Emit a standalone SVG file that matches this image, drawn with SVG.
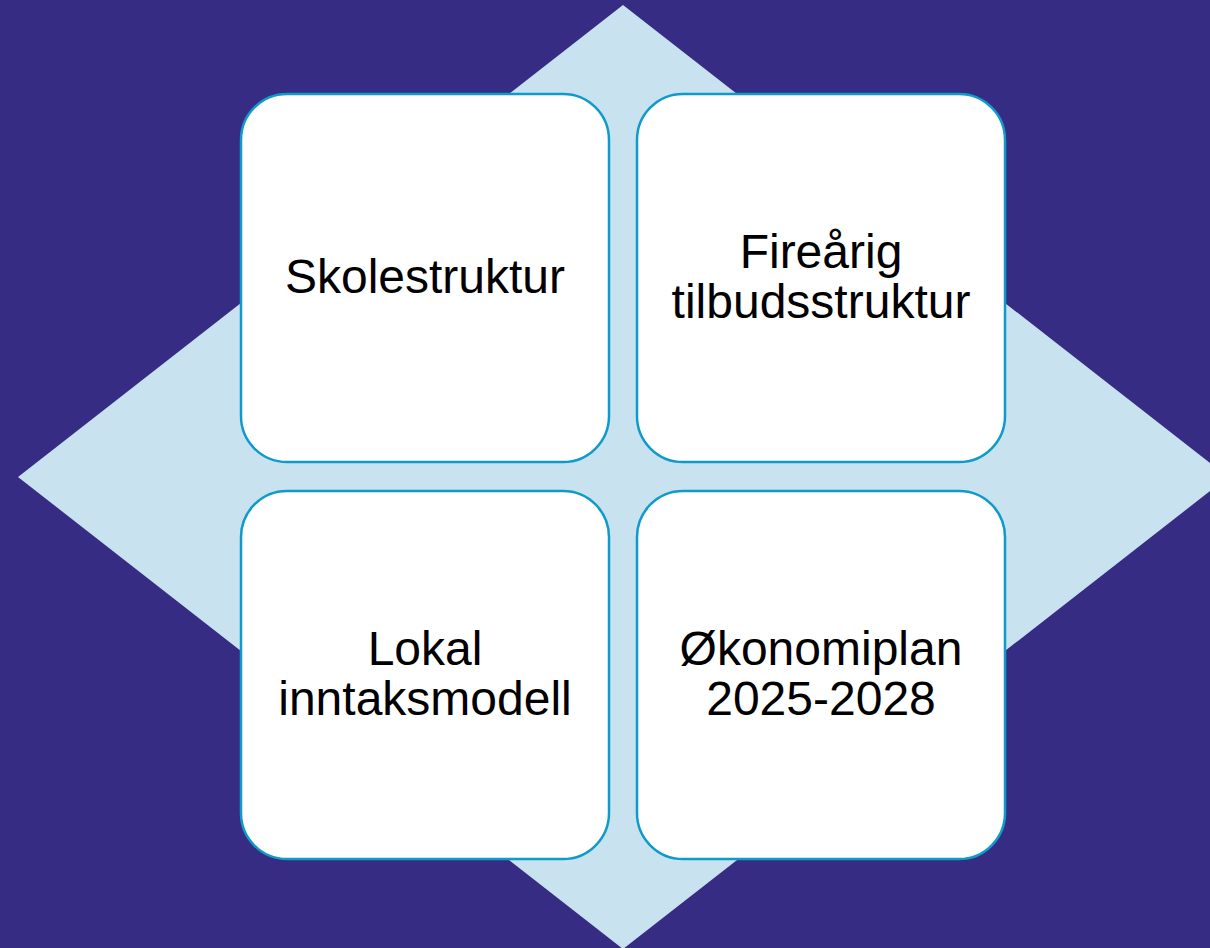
<svg xmlns="http://www.w3.org/2000/svg" width="1210" height="948" viewBox="0 0 1210 948">
<style>
.box{fill:#ffffff;stroke:#0f9bca;stroke-width:2.5}
.lbl{font-family:"Liberation Sans",Arial,sans-serif;font-size:48px;fill:#000000;text-anchor:middle}
</style>
<rect x="0" y="0" width="1210" height="948" fill="#372c84"/>
<polygon points="623,5 1228,477 623,949 18,477" fill="#c9e2f0"/>
<g id="connectors"></g>
<g id="node-skolestruktur">
<rect class="box" x="241" y="94" width="368" height="368" rx="46" ry="46"/>
<text class="lbl" x="425" y="293">Skolestruktur</text>
</g>
<g id="node-tilbudsstruktur">
<rect class="box" x="637" y="94" width="368" height="368" rx="46" ry="46"/>
<text class="lbl" x="821" y="268">Fireårig</text>
<text class="lbl" x="821" y="318">tilbudsstruktur</text>
</g>
<g id="node-inntaksmodell">
<rect class="box" x="241" y="491" width="368" height="368" rx="46" ry="46"/>
<text class="lbl" x="425" y="665">Lokal</text>
<text class="lbl" x="425" y="715">inntaksmodell</text>
</g>
<g id="node-okonomiplan">
<rect class="box" x="637" y="491" width="368" height="368" rx="46" ry="46"/>
<text class="lbl" x="821" y="665">Økonomiplan</text>
<text class="lbl" x="821" y="715">2025-2028</text>
</g>
</svg>
